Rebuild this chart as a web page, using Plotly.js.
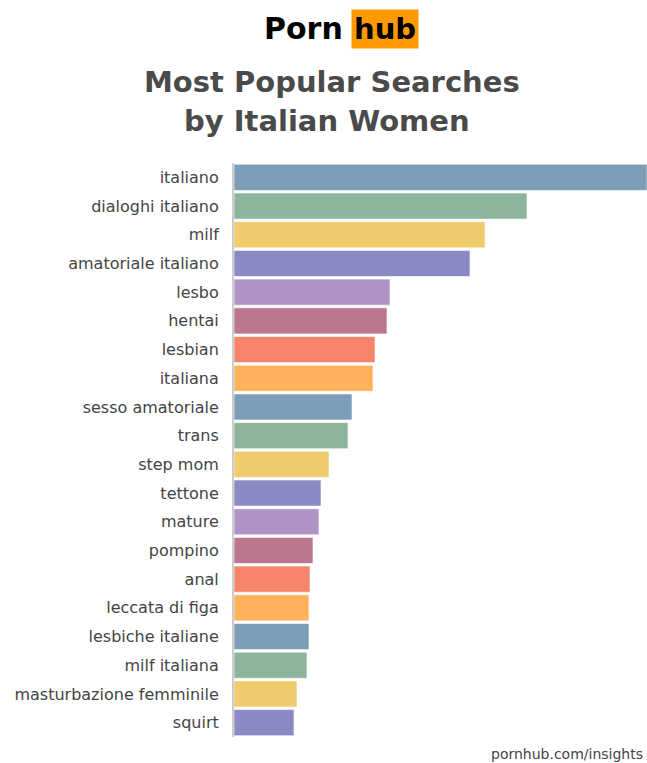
<!DOCTYPE html>
<html><head><meta charset="utf-8">
<script src="https://cdn.plot.ly/plotly-3.0.1.min.js"></script>
<style>html,body{margin:0;padding:0;background:#fff}#chart{width:647px;height:763px}</style>
</head><body><div id="chart"></div>
<script>
var categories = ["italiano","dialoghi italiano","milf","amatoriale italiano","lesbo","hentai","lesbian","italiana","sesso amatoriale","trans","step mom","tettone","mature","pompino","anal","leccata di figa","lesbiche italiane","milf italiana","masturbazione femminile","squirt"];
var values = [413,293,251,236,156,153,141,139,118,114,95,87,85,79,76,75,75,73,63,60];
var palette = ["#7B9DB8","#8DB59C","#EFCB6C","#8A89C3","#B094C8","#BC7790","#F5846B","#FFB25B"];
var barColors = categories.map(function(c,i){return palette[i%palette.length];});

var trace = {
  type:"bar", orientation:"h", x:values, y:categories,
  marker:{color:barColors, line:{color:"rgba(255,255,255,0.6)", width:1}},
  hoverinfo:"x+y"
};
function px(x){return (x-234)/413;}
function py(y){return (763-26-y)/(763-163-26);}
var layout = {
  width:647, height:763,
  margin:{l:234, r:0, t:163, b:26},
  paper_bgcolor:"#fff", plot_bgcolor:"#fff",
  bargap:0.09,
  showlegend:false,
  font:{family:"DejaVu Sans, sans-serif", color:"#444"},
  xaxis:{range:[0,413], visible:false, fixedrange:true},
  yaxis:{autorange:"reversed", showline:true, linecolor:"#ccc", linewidth:2, showgrid:false, zeroline:false,
         ticks:"", ticklabelstandoff:10, tickfont:{family:"DejaVu Sans, sans-serif", size:16, color:"#444"}},
  annotations:[
    {text:"<b>Porn</b>", xref:"paper", yref:"paper", x:px(303), y:py(28), xanchor:"center", yanchor:"middle", showarrow:false,
     font:{family:"DejaVu Sans, sans-serif", size:30, color:"#000"}},
    {text:"<b>hub</b>", xref:"paper", yref:"paper", x:px(385), y:py(29), xanchor:"center", yanchor:"middle", showarrow:false,
     bgcolor:"#FF9900", borderpad:2, font:{family:"DejaVu Sans, sans-serif", size:29, color:"#000"}},
    {text:"<b>Most Popular Searches</b>", xref:"paper", yref:"paper", x:px(332), y:py(82), xanchor:"center", yanchor:"middle", showarrow:false,
     font:{family:"DejaVu Sans, sans-serif", size:29, color:"#4a4a4a"}},
    {text:"<b>by Italian Women</b>", xref:"paper", yref:"paper", x:px(327), y:py(121), xanchor:"center", yanchor:"middle", showarrow:false,
     font:{family:"DejaVu Sans, sans-serif", size:29, color:"#4a4a4a"}},
    {text:"pornhub.com/insights", xref:"paper", yref:"paper", x:px(645), y:py(754), xanchor:"right", yanchor:"middle", showarrow:false,
     font:{family:"DejaVu Sans, sans-serif", size:14, color:"#444"}}
  ]
};
Plotly.newPlot("chart",[trace],layout,{displayModeBar:false, staticPlot:true});
</script></body></html>
